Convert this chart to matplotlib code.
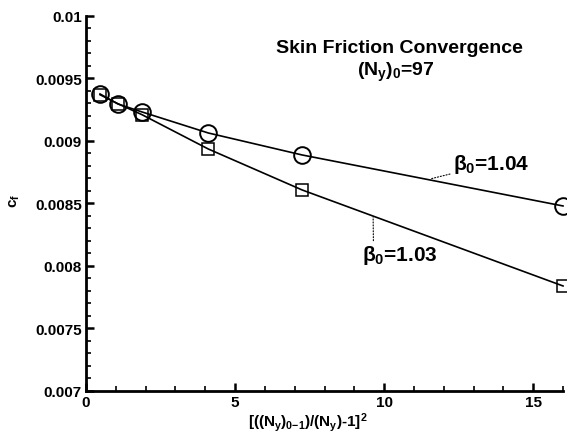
import numpy as np
import matplotlib.pyplot as plt
from matplotlib.ticker import MultipleLocator

plt.rcParams['font.family'] = ['Liberation Sans', 'DejaVu Sans']
plt.rcParams['font.weight'] = 'bold'
plt.rcParams['mathtext.fontset'] = 'custom'
plt.rcParams['mathtext.rm'] = 'Liberation Sans:bold'
plt.rcParams['mathtext.it'] = 'Liberation Sans:bold'
plt.rcParams['mathtext.bf'] = 'Liberation Sans:bold'

# grid refinement parameter
x_104 = [0.47, 1.07, 1.88, 4.1, 7.25, 16.0]
cf_104 = [0.009376, 0.009296, 0.009232, 0.009064, 0.008888, 0.00848]
x_103 = [0.47, 1.07, 1.88, 4.1, 7.25, 16.0]
cf_103 = [0.00937, 0.009298, 0.00921, 0.008936, 0.008608, 0.00784]

fig = plt.figure(figsize=(5.67, 4.35), dpi=100)
ax = fig.add_axes([0.1517, 0.0989, 0.8413, 0.8621])

ax.plot(x_104, cf_104, color='black', lw=1.2, marker='o', ms=12,
        mfc='none', mec='black', mew=1.4, clip_on=False, zorder=3)
ax.plot(x_103, cf_103, color='black', lw=1.2, marker='s', ms=8,
        mfc='none', mec='black', mew=1.1, clip_on=False, zorder=3)

ax.set_xlim(0, 16)
ax.set_ylim(0.007, 0.01)
ax.xaxis.set_major_locator(MultipleLocator(5))
ax.xaxis.set_minor_locator(MultipleLocator(1))
ax.yaxis.set_major_locator(MultipleLocator(0.0005))
ax.yaxis.set_minor_locator(MultipleLocator(0.0001))
ax.set_yticks([0.007, 0.0075, 0.008, 0.0085, 0.009, 0.0095, 0.01])
ax.set_yticklabels(['0.007', '0.0075', '0.008', '0.0085', '0.009', '0.0095', '0.01'])
ax.set_xticks([0, 5, 10, 15])

for s in ['top', 'right']:
    ax.spines[s].set_visible(False)
for s in ['left', 'bottom']:
    ax.spines[s].set_linewidth(2)
ax.tick_params(which='major', direction='in', length=6, width=1.8, labelsize=11, pad=3)
ax.tick_params(which='minor', direction='in', length=3.5, width=1.2)

ax.set_xlabel(r'[((N$_y$)$_{0\mathrm{-}1}$)/(N$_y$)-1]$^2$', fontsize=11, fontweight='bold')
ax.xaxis.set_label_coords(0.465, -0.05)
ax.set_ylabel(r'c$_f$', fontsize=11, fontweight='bold')
ax.yaxis.set_label_coords(-0.135, 0.51)

ax.text(10.5, 0.00975, 'Skin Friction Convergence', ha='center', va='center',
        fontsize=14, fontweight='bold')
ax.text(10.4, 0.00956, r'(N$_y$)$_0$=97', ha='center', va='center',
        fontsize=14, fontweight='bold')

ax.annotate(r'$\beta_0$=1.04', xy=(11.54, 0.008696), xytext=(12.3, 0.008816),
            fontsize=15, fontweight='bold', va='center', ha='left',
            arrowprops=dict(arrowstyle='-', linestyle=':', lw=0.8, color='black',
                            shrinkA=0, shrinkB=0))
ax.annotate(r'$\beta_0$=1.03', xy=(9.63, 0.008392), xytext=(9.26, 0.008088),
            fontsize=15, fontweight='bold', va='center', ha='left',
            arrowprops=dict(arrowstyle='-', linestyle=':', lw=0.8, color='black',
                            shrinkA=0, shrinkB=0, relpos=(0.15, 1.0)))

fig.savefig('out.png', dpi=100)
